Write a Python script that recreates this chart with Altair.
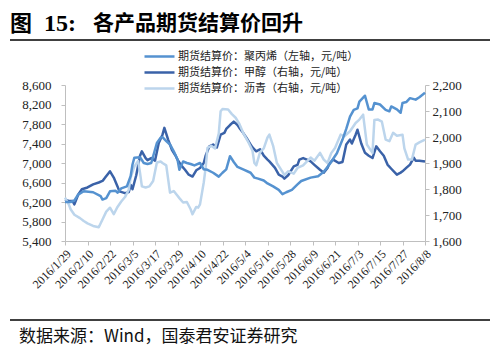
import altair as alt
import pandas as pd

TITLE_PARTS = ["图", "15:", "各产品期货结算价回升"]
SOURCE = "数据来源：Wind，国泰君安证券研究"
SERIES = ["期货结算价：聚丙烯（左轴，元/吨）",
          "期货结算价：甲醇（右轴，元/吨）",
          "期货结算价：沥青（右轴，元/吨）"]
COLORS = ["#5592D0", "#3A62A8", "#BCD5EC"]

X_TICKS = ["2016/1/29", "2016/2/10", "2016/2/22", "2016/3/5", "2016/3/17",
           "2016/3/29", "2016/4/10", "2016/4/22", "2016/5/4", "2016/5/16",
           "2016/5/28", "2016/6/9", "2016/6/21", "2016/7/3", "2016/7/15",
           "2016/7/27", "2016/8/8"]
LEFT_TICKS = [5400, 5800, 6200, 6600, 7000, 7400, 7800, 8200, 8600]
RIGHT_TICKS = [1600, 1700, 1800, 1900, 2000, 2100, 2200]

# 聚丙烯 (left axis)
pp_dates = ["2016/1/29", "2016/2/1", "2016/2/3", "2016/2/5", "2016/2/8", "2016/2/13", "2016/2/17",
            "2016/2/18", "2016/2/20", "2016/2/22", "2016/2/25", "2016/2/26", "2016/2/28", "2016/3/2",
            "2016/3/4", "2016/3/5", "2016/3/6", "2016/3/9", "2016/3/11", "2016/3/13", "2016/3/15",
            "2016/3/18", "2016/3/20", "2016/3/21", "2016/3/23", "2016/3/25", "2016/3/27", "2016/3/29",
            "2016/3/30", "2016/4/1", "2016/4/3", "2016/4/5", "2016/4/7", "2016/4/10", "2016/4/12",
            "2016/4/14", "2016/4/17", "2016/4/20", "2016/4/22", "2016/4/24", "2016/4/26", "2016/4/28",
            "2016/4/30", "2016/5/3", "2016/5/7", "2016/5/9", "2016/5/11", "2016/5/14", "2016/5/16",
            "2016/5/19", "2016/5/22", "2016/5/24", "2016/5/26", "2016/5/29", "2016/6/1", "2016/6/3",
            "2016/6/8", "2016/6/12", "2016/6/15", "2016/6/18", "2016/6/22", "2016/6/25", "2016/6/27",
            "2016/6/29", "2016/7/1", "2016/7/3", "2016/7/4", "2016/7/7", "2016/7/9", "2016/7/11",
            "2016/7/12", "2016/7/15", "2016/7/18", "2016/7/20", "2016/7/21", "2016/7/24", "2016/7/26",
            "2016/7/27", "2016/7/29", "2016/7/31", "2016/8/3", "2016/8/5", "2016/8/8"]
pp_values = [6200, 6200, 6230, 6350, 6420, 6400, 6320,
             6250, 6280, 6420, 6430, 6390, 6480, 6520,
             6730, 6970, 7110, 7120, 7000, 6980, 7000,
             7410, 7520, 7530, 7450, 7380, 7240, 7070,
             6860, 7030, 7000, 6980, 6950, 7000, 6870,
             6860, 6800, 6720, 6800, 6870, 7140, 7020,
             6920, 6870, 6800, 6700, 6680, 6640, 6580,
             6520, 6450, 6360, 6400, 6450, 6560, 6630,
             6700, 6730, 6820, 6970, 7200, 7480, 7700,
             7950, 8090, 8120, 8260, 8380, 8100, 8100,
             8230, 8200, 8090, 8060, 8160, 8100, 8030,
             8230, 8250, 8330, 8300, 8350, 8440]

# 甲醇 (right axis)
ma_dates = ["2016/1/29", "2016/1/31", "2016/2/2", "2016/2/3", "2016/2/5", "2016/2/7", "2016/2/10",
            "2016/2/13", "2016/2/16", "2016/2/18", "2016/2/19", "2016/2/21", "2016/2/22", "2016/2/24",
            "2016/2/26", "2016/2/27", "2016/3/1", "2016/3/3", "2016/3/4", "2016/3/5", "2016/3/7",
            "2016/3/9", "2016/3/10", "2016/3/12", "2016/3/13", "2016/3/15", "2016/3/17", "2016/3/19",
            "2016/3/21", "2016/3/22", "2016/3/24", "2016/3/26", "2016/3/28", "2016/3/29", "2016/3/31",
            "2016/4/2", "2016/4/4", "2016/4/6", "2016/4/8", "2016/4/10", "2016/4/12", "2016/4/13",
            "2016/4/15", "2016/4/17", "2016/4/19", "2016/4/21", "2016/4/23", "2016/4/24", "2016/4/26",
            "2016/4/28", "2016/4/30", "2016/5/1", "2016/5/3", "2016/5/5", "2016/5/7", "2016/5/8",
            "2016/5/10", "2016/5/12", "2016/5/14", "2016/5/16", "2016/5/17", "2016/5/20", "2016/5/22",
            "2016/5/24", "2016/5/25", "2016/5/27", "2016/5/30", "2016/6/1", "2016/6/2", "2016/6/4",
            "2016/6/6", "2016/6/8", "2016/6/10", "2016/6/13", "2016/6/15", "2016/6/17", "2016/6/18",
            "2016/6/20", "2016/6/23", "2016/6/25", "2016/6/27", "2016/6/29", "2016/6/30", "2016/7/2",
            "2016/7/3", "2016/7/5", "2016/7/7", "2016/7/9", "2016/7/11", "2016/7/13", "2016/7/15",
            "2016/7/17", "2016/7/19", "2016/7/21", "2016/7/24", "2016/7/26", "2016/7/27", "2016/7/29",
            "2016/7/31", "2016/8/2", "2016/8/3", "2016/8/5", "2016/8/8"]
ma_values = [1759, 1754, 1754, 1741, 1778, 1799, 1806,
             1818, 1825, 1831, 1840, 1859, 1868, 1844,
             1810, 1791, 1784, 1788, 1816, 1799, 1853,
             1928, 1945, 1919, 1911, 1919, 1909, 1977,
             2009, 2035, 1990, 1951, 1928, 1913, 1891,
             1874, 1855, 1848, 1872, 1881, 1900, 1928,
             1964, 1971, 1960, 2009, 2016, 2031, 2046,
             2059, 2046, 2035, 2016, 1994, 1971, 1960,
             1945, 1953, 1928, 1913, 1906, 1881, 1855,
             1848, 1840, 1853, 1887, 1893, 1913, 1919,
             1913, 1906, 1893, 1874, 1863, 1881, 1898,
             1913, 1900, 1904, 1971, 1990, 1975, 2009,
             2028, 1975, 1939, 1928, 1919, 1964, 1945,
             1928, 1894, 1878, 1855, 1863, 1868, 1881,
             1894, 1921, 1909, 1909, 1906]

# 沥青 (right axis)
bu_dates = ["2016/1/29", "2016/1/31", "2016/2/1", "2016/2/3", "2016/2/6", "2016/2/8", "2016/2/10",
            "2016/2/13", "2016/2/16", "2016/2/18", "2016/2/20", "2016/2/22", "2016/2/24", "2016/2/26",
            "2016/2/28", "2016/3/1", "2016/3/3", "2016/3/4", "2016/3/6", "2016/3/8", "2016/3/9",
            "2016/3/10", "2016/3/12", "2016/3/14", "2016/3/16", "2016/3/18", "2016/3/20", "2016/3/21",
            "2016/3/23", "2016/3/25", "2016/3/27", "2016/3/29", "2016/3/30", "2016/4/1", "2016/4/3",
            "2016/4/5", "2016/4/6", "2016/4/8", "2016/4/9", "2016/4/10", "2016/4/12", "2016/4/13",
            "2016/4/14", "2016/4/16", "2016/4/18", "2016/4/20", "2016/4/21", "2016/4/22", "2016/4/25",
            "2016/4/27", "2016/4/29", "2016/5/1", "2016/5/3", "2016/5/6", "2016/5/8", "2016/5/9",
            "2016/5/10", "2016/5/12", "2016/5/14", "2016/5/16", "2016/5/17", "2016/5/19", "2016/5/21",
            "2016/5/24", "2016/5/25", "2016/5/27", "2016/5/30", "2016/6/1", "2016/6/4", "2016/6/8",
            "2016/6/10", "2016/6/13", "2016/6/15", "2016/6/17", "2016/6/19", "2016/6/21", "2016/6/24",
            "2016/6/26", "2016/6/29", "2016/7/2", "2016/7/4", "2016/7/6", "2016/7/8", "2016/7/11",
            "2016/7/12", "2016/7/14", "2016/7/16", "2016/7/18", "2016/7/20", "2016/7/22", "2016/7/24",
            "2016/7/27", "2016/7/28", "2016/7/30", "2016/8/1", "2016/8/3", "2016/8/5", "2016/8/8"]
bu_values = [1767, 1741, 1722, 1701, 1688, 1677, 1668,
             1658, 1653, 1683, 1713, 1728, 1703, 1731,
             1752, 1769, 1797, 1844, 1887, 1908, 1863,
             1810, 1806, 1810, 1831, 1902, 1906, 1900,
             1891, 1786, 1792, 1774, 1765, 1748, 1750,
             1722, 1703, 1731, 1728, 1741, 1825, 1881,
             1958, 1966, 1956, 2013, 2099, 2108, 2106,
             2088, 2074, 2050, 2016, 1977, 1947, 1900,
             1891, 1941, 1956, 1998, 2009, 1966, 1900,
             1866, 1853, 1868, 1859, 1881, 1891, 1921,
             1909, 1939, 1913, 1900, 1938, 1958, 2009,
             2003, 2022, 2054, 2067, 2086, 1971, 1939,
             2065, 2067, 2059, 1990, 1984, 2016, 2005,
             2009, 1956, 1913, 1913, 1971, 1979, 1990]


def dt(s):
    y, m, d = (int(p) for p in s.split("/"))
    return alt.DateTime(year=y, month=m, date=d)


pp_df = pd.DataFrame({"date": pp_dates, "value": pp_values})
pp_df["series"] = SERIES[0]
ma_df = pd.DataFrame({"date": ma_dates, "value": ma_values})
ma_df["series"] = SERIES[1]
bu_df = pd.DataFrame({"date": bu_dates, "value": bu_values})
bu_df["series"] = SERIES[2]
right_df = pd.concat([ma_df, bu_df], ignore_index=True)

AX_FONT = "Liberation Serif"
CJK = "Noto Sans CJK SC"
AX_COL = "#BFBFBF"

x_enc = alt.X(
    "date:T",
    scale=alt.Scale(domain=[dt(X_TICKS[0]), dt(X_TICKS[-1])], nice=False),
    axis=alt.Axis(values=[dt(t) for t in X_TICKS], format="%Y/%-m/%-d", labelAngle=-45,
                  title=None, grid=False, labelFont=AX_FONT, labelFontSize=12,
                  labelColor="#222222", domainColor=AX_COL, tickColor=AX_COL,
                  tickSize=4, labelPadding=3, labelOverlap=False, labelBound=False),
)

color_enc = alt.Color(
    "series:N",
    scale=alt.Scale(domain=SERIES, range=COLORS),
    legend=alt.Legend(title=None, orient="none", legendX=88, legendY=-35,
                      symbolType="M-3,0L3,0", symbolSize=100, symbolStrokeWidth=2.5,
                      labelFont=CJK, labelFontSize=11, labelColor="#222222", labelLimit=400,
                      labelOffset=12, rowPadding=4, padding=0, direction="vertical"),
)

left = alt.Chart(pp_df).mark_line(strokeWidth=2.5, strokeJoin="round").encode(
    x=x_enc,
    y=alt.Y("value:Q", scale=alt.Scale(domain=[5400, 8600], nice=False, zero=False),
            axis=alt.Axis(orient="left", values=LEFT_TICKS, format=",.0f", title=None, grid=False,
                          labelFont=AX_FONT, labelFontSize=13, labelColor="#222222",
                          domainColor=AX_COL, tickColor=AX_COL, tickSize=4, labelPadding=10)),
    color=color_enc,
)

right = alt.Chart(right_df).mark_line(strokeWidth=2.5, strokeJoin="round").encode(
    x=x_enc,
    y=alt.Y("value:Q", scale=alt.Scale(domain=[1600, 2200], nice=False, zero=False),
            axis=alt.Axis(orient="right", values=RIGHT_TICKS, format=",.0f", title=None, grid=False,
                          labelFont=AX_FONT, labelFontSize=13, labelColor="#222222",
                          domainColor=AX_COL, tickColor=AX_COL, tickSize=4, labelPadding=3)),
    color=color_enc,
    order=alt.Order("series:N"),
)

one = pd.DataFrame({"t": [TITLE_PARTS[0]]})
t1 = alt.Chart(one).mark_text(align="left", baseline="middle", font=CJK, fontSize=22,
                              fontWeight="bold", color="#000000").encode(
    text="t:N", x=alt.value(-55), y=alt.value(-61))
t2 = alt.Chart(pd.DataFrame({"t": [TITLE_PARTS[1]]})).mark_text(
    align="left", baseline="middle", font=AX_FONT, fontSize=24, fontWeight="bold",
    color="#000000").encode(text="t:N", x=alt.value(-21), y=alt.value(-61))
t3 = alt.Chart(pd.DataFrame({"t": [TITLE_PARTS[2]]})).mark_text(
    align="left", baseline="middle", font=CJK, fontSize=21, fontWeight="bold",
    color="#000000").encode(text="t:N", x=alt.value(28), y=alt.value(-61))
src = alt.Chart(pd.DataFrame({"t": [SOURCE]})).mark_text(
    align="left", baseline="middle", font=CJK, fontSize=17, color="#111111").encode(
    text="t:N", x=alt.value(-46), y=alt.value(252))
rule_top = alt.Chart(one).mark_rule(color="#000000", strokeWidth=1.3).encode(
    x=alt.value(-55), x2=alt.value(425), y=alt.value(-45))
rule_bot = alt.Chart(one).mark_rule(color="#000000", strokeWidth=1.3).encode(
    x=alt.value(-55), x2=alt.value(425), y=alt.value(235))

chart = alt.layer(right, left, t1, t2, t3, src, rule_top, rule_bot).resolve_scale(
    y="independent"
).properties(
    width=360, height=156,
    autosize=alt.AutoSizeParams(type="none"),
    padding={"left": 57, "top": 77, "right": 71, "bottom": 107},
).configure_view(strokeWidth=0)

chart.save("out.html", embed_options={"renderer": "svg", "actions": False})
